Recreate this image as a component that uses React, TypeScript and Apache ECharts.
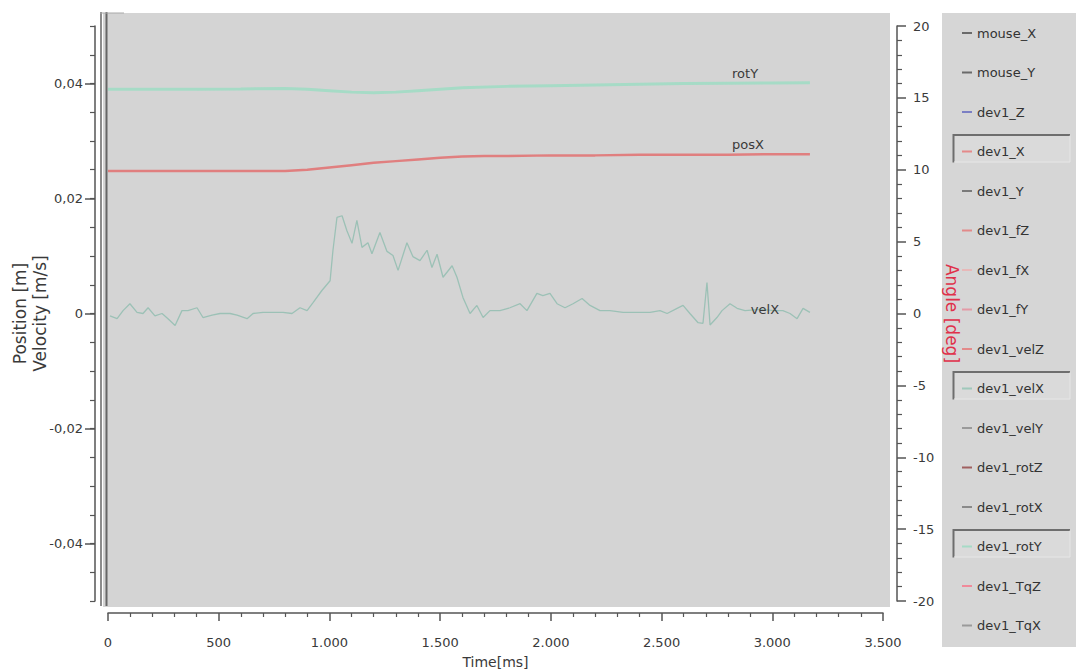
import React, { useEffect, useRef } from "react";
import * as echarts from "echarts";

// ---------- data ----------
const legendNames = [
  "mouse_X", "mouse_Y", "dev1_Z", "dev1_X", "dev1_Y", "dev1_fZ", "dev1_fX", "dev1_fY",
  "dev1_velZ", "dev1_velX", "dev1_velY", "dev1_rotZ", "dev1_rotX", "dev1_rotY", "dev1_TqZ", "dev1_TqX",
];
const legendColors = [
  "#6a6a6a", "#6a6a6a", "#7b7fc4", "#e58a8a", "#7a7a7a", "#e28a8a", "#e8b8b8", "#e49aa6",
  "#e38a8a", "#9fc8bb", "#9a9a9a", "#a06060", "#8a8a8a", "#a6dbc6", "#f08a9a", "#9a9a9a",
];
const activeNames = ["dev1_X", "dev1_velX", "dev1_rotY"];

const xTickValues = [0, 500, 1000, 1500, 2000, 2500, 3000, 3500];
const leftLabelValues = [-0.04, -0.02, 0, 0.02, 0.04];
const rightLabelValues = [-20, -15, -10, -5, 0, 5, 10, 15, 20];

// posX (dev1_X), metres, left axis
const posXTime = [0, 400, 800, 900, 1000, 1100, 1200, 1300, 1400, 1500, 1600, 1700, 1800, 2000, 2200, 2400, 2600, 2800, 3000, 3170];
const posXValue = [0.0248, 0.0248, 0.0248, 0.025, 0.0254, 0.0258, 0.0262, 0.0265, 0.0268, 0.0271, 0.0273, 0.0274, 0.0274, 0.0275, 0.0275, 0.0276, 0.0276, 0.0276, 0.0277, 0.0277];

// rotY (dev1_rotY), degrees, right axis
const rotYTime = [0, 200, 400, 600, 800, 900, 1000, 1100, 1200, 1300, 1400, 1600, 1800, 2000, 2200, 2400, 2600, 2800, 3000, 3170];
const rotYValue = [15.6, 15.6, 15.6, 15.62, 15.65, 15.6, 15.5, 15.4, 15.35, 15.4, 15.5, 15.7, 15.8, 15.85, 15.9, 15.95, 16.0, 16.02, 16.04, 16.05];

// velX (dev1_velX), m/s, left axis
const velXTime = [9, 41, 68, 99, 131, 158, 181, 212, 244, 271, 303, 334, 361, 402, 429, 470, 506, 551, 583, 628, 655, 700, 745, 790, 831, 867, 899, 926, 966, 1003, 1016, 1034, 1057, 1079, 1102, 1124, 1147, 1174, 1192, 1228, 1260, 1287, 1310, 1350, 1377, 1409, 1441, 1463, 1486, 1513, 1554, 1576, 1603, 1635, 1666, 1694, 1725, 1770, 1815, 1861, 1892, 1937, 1964, 1996, 2028, 2064, 2100, 2141, 2177, 2222, 2267, 2326, 2389, 2448, 2493, 2525, 2570, 2597, 2628, 2665, 2687, 2705, 2719, 2750, 2773, 2809, 2841, 2877, 2945, 3012, 3048, 3080, 3112, 3139, 3170];
const velXValue = [-0.0004, -0.0009, 0.0005, 0.0017, 0.0002, 0.0, 0.001, -0.0004, 0.0, -0.0009, -0.0021, 0.0005, 0.0005, 0.001, -0.0007, -0.0003, 0.0, 0.0, -0.0003, -0.0009, 0.0, 0.0002, 0.0002, 0.0002, 0.0, 0.001, 0.0005, 0.0019, 0.004, 0.0057, 0.011, 0.0167, 0.017, 0.0144, 0.0122, 0.0162, 0.0115, 0.0123, 0.0104, 0.0141, 0.0108, 0.0101, 0.0075, 0.0123, 0.0099, 0.0092, 0.011, 0.008, 0.0103, 0.0063, 0.0083, 0.0063, 0.0028, 0.0, 0.0014, -0.0007, 0.0005, 0.0005, 0.001, 0.0017, 0.0005, 0.0035, 0.0031, 0.0035, 0.0017, 0.001, 0.0017, 0.0026, 0.0014, 0.0005, 0.0005, 0.0002, 0.0002, 0.0002, 0.0005, 0.0, 0.0009, 0.0014, 0.0, -0.0016, -0.0017, 0.0054, -0.002, -0.0007, 0.0005, 0.0017, 0.0009, 0.0005, 0.0007, 0.0005, 0.0005, 0.0, -0.0009, 0.0009, 0.0002];

// in-plot series labels
const seriesLabels = ["posX", "velX", "rotY"];
const seriesLabelTimes = [2890, 2967, 2877];

// ---------- helpers ----------
const zip = (t: number[], v: number[]) => t.map((x, i) => [x, v[i]]);
const interp = (t: number[], v: number[], x: number) => {
  for (let i = 1; i < t.length; i++) {
    if (x <= t[i]) {
      const f = (x - t[i - 1]) / (t[i] - t[i - 1]);
      return v[i - 1] + f * (v[i] - v[i - 1]);
    }
  }
  return v[v.length - 1];
};
const fmtComma = (v: number) => {
  if (Math.abs(v) < 1e-9) return "0";
  return v.toFixed(2).replace(".", ",");
};
const fmtThousand = (v: number) => {
  if (v < 1000) return String(v);
  const k = Math.floor(v / 1000);
  return `${k}.${String(Math.round(v - k * 1000)).padStart(3, "0")}`;
};

const FONT = "DejaVu Sans";
const LEG_TOP = 33;
const LEG_STEP = 39.5;

export default function App() {
  const ref = useRef<HTMLDivElement>(null);

  useEffect(() => {
    if (!ref.current) return;
    const chart = echarts.init(ref.current, undefined, { renderer: "svg" });

    const dataMap: Record<string, any> = {
      dev1_X: { time: posXTime, value: posXValue, axis: 0, color: "#e07f7f", width: 2.5, label: 0, pos: "top" },
      dev1_velX: { time: velXTime, value: velXValue, axis: 0, color: "#9cc1b6", width: 1.3, label: 1, pos: "inside" },
      dev1_rotY: { time: rotYTime, value: rotYValue, axis: 1, color: "#a6dbc6", width: 3, label: 2, pos: "top" },
    };

    const series: any[] = legendNames.map((name, i) => {
      const d = dataMap[name];
      const base: any = {
        name,
        type: "line",
        showSymbol: false,
        symbol: "none",
        itemStyle: { color: legendColors[i] },
        lineStyle: { color: legendColors[i], width: 1 },
        data: [],
      };
      if (!d) return base;
      const lt = seriesLabelTimes[d.label];
      return {
        ...base,
        yAxisIndex: d.axis,
        z: name === "dev1_velX" ? 3 : 4,
        lineStyle: { color: d.color, width: d.width },
        data: zip(d.time, d.value),
        markPoint: {
          symbol: "circle",
          symbolSize: 1,
          itemStyle: { color: "rgba(0,0,0,0)" },
          silent: true,
          label: {
            show: true,
            formatter: seriesLabels[d.label],
            position: d.pos,
            distance: 3,
            color: "#3a3a3a",
            fontSize: 13,
            fontFamily: FONT,
          },
          data: [{ coord: [lt, interp(d.time, d.value, lt)] }],
        },
      };
    });

    const graphics: any[] = [
      // plot panel
      { type: "rect", silent: true, z: -10, shape: { x: 103, y: 13, width: 787, height: 594 }, style: { fill: "#d4d4d4" } },
      { type: "line", silent: true, z: -5, shape: { x1: 101, y1: 12, x2: 101, y2: 606 }, style: { stroke: "#8c8c8c", lineWidth: 2 } },
      { type: "line", silent: true, z: -5, shape: { x1: 106.5, y1: 12, x2: 106.5, y2: 606 }, style: { stroke: "#666666", lineWidth: 2 } },
      { type: "line", silent: true, z: -5, shape: { x1: 100, y1: 13, x2: 124, y2: 13 }, style: { stroke: "#a8a8a8", lineWidth: 1 } },
      // legend panel
      { type: "rect", silent: true, z: -10, shape: { x: 942, y: 13, width: 134, height: 634 }, style: { fill: "#d6d6d6" } },
    ];
    activeNames.forEach((n) => {
      const idx = legendNames.indexOf(n);
      const cy = LEG_TOP + idx * LEG_STEP;
      const top = cy - 17;
      const bot = cy + 11;
      graphics.push(
        { type: "rect", silent: true, z: -8, shape: { x: 953, y: top, width: 117, height: bot - top }, style: { fill: "#dadada" } },
        { type: "polyline", silent: true, z: -7, shape: { points: [[953.5, bot], [953.5, top + 0.5], [1070, top + 0.5]] }, style: { stroke: "#6e6e6e", lineWidth: 2, fill: null } },
        { type: "polyline", silent: true, z: -7, shape: { points: [[954, bot - 0.5], [1070, bot - 0.5], [1070, top + 1]] }, style: { stroke: "#e6e6e6", lineWidth: 1, fill: null } },
      );
    });

    const axisLine = { show: true, onZero: false, lineStyle: { color: "#555555", width: 1.5 } };
    const labelStyle = { color: "#3a3a3a", fontSize: 13, fontFamily: FONT };

    chart.setOption({
      animation: false,
      backgroundColor: "#ffffff",
      textStyle: { fontFamily: FONT },
      grid: { left: 108, right: 197, top: 26, bottom: 71, containLabel: false, outerBoundsMode: "none" },
      legend: {
        orient: "vertical",
        left: 957,
        top: LEG_TOP - 12,
        itemWidth: 10,
        itemHeight: 2,
        itemGap: LEG_STEP - 14,
        icon: "rect",
        selectedMode: false,
        textStyle: { fontSize: 13, color: "#333333", fontFamily: FONT, lineHeight: 14 },
        data: legendNames,
      },
      xAxis: {
        type: "value",
        min: 0,
        max: 3500,
        interval: 500,
        offset: 12,
        axisLine,
        axisTick: { show: true, length: 8, lineStyle: { color: "#555555", width: 1.5 } },
        minorTick: { show: true, splitNumber: 5, length: 4, lineStyle: { color: "#555555", width: 1.2 } },
        splitLine: { show: false },
        axisLabel: { ...labelStyle, margin: 23, formatter: (v: number) => (xTickValues.includes(v) ? fmtThousand(v) : "") },
        name: "Time[ms]",
        nameLocation: "middle",
        nameGap: 42,
        nameMoveOverlap: false,
        nameTextStyle: { color: "#3a3a3a", fontSize: 14, fontFamily: FONT },
      },
      yAxis: [
        {
          type: "value",
          position: "left",
          min: -0.05,
          max: 0.05,
          interval: 0.005,
          offset: 13,
          axisLine,
          axisTick: { show: true, length: 5, lineStyle: { color: "#555555", width: 1.2 } },
          splitLine: { show: false },
          axisLabel: {
            ...labelStyle,
            margin: 12,
            formatter: (v: number) => (leftLabelValues.some((l) => Math.abs(l - v) < 1e-6) ? fmtComma(v) : ""),
          },
          name: "Position [m]\nVelocity [m/s]",
          nameLocation: "middle",
          nameRotate: 90,
          nameGap: 45,
          nameMoveOverlap: false,
          nameTextStyle: { color: "#3a3a3a", fontSize: 17, lineHeight: 20, fontFamily: FONT },
        },
        {
          type: "value",
          position: "right",
          min: -20,
          max: 20,
          interval: 5,
          offset: 14,
          axisLine,
          axisTick: { show: true, length: 9, lineStyle: { color: "#555555", width: 1.5 } },
          minorTick: { show: true, splitNumber: 5, length: 5, lineStyle: { color: "#555555", width: 1.2 } },
          splitLine: { show: false },
          axisLabel: {
            ...labelStyle,
            margin: 16,
            formatter: (v: number) => (rightLabelValues.includes(v) ? String(v) : ""),
          },
          name: "Angle [deg]",
          nameLocation: "middle",
          nameRotate: -90,
          nameGap: 46,
          nameMoveOverlap: false,
          nameTextStyle: { color: "#e0304a", fontSize: 17, fontFamily: FONT },
        },
        {
          type: "value",
          position: "left",
          min: -0.05,
          max: 0.05,
          offset: 13,
          axisLine: { show: false, onZero: false },
          axisTick: { show: true, length: 10, customValues: leftLabelValues, lineStyle: { color: "#555555", width: 1.5 } },
          axisLabel: { show: false },
          splitLine: { show: false },
        },
      ],
      series,
      graphic: graphics,
    });

    return () => chart.dispose();
  }, []);

  return <div ref={ref} style={{ position: "fixed", left: 0, top: 0, width: 1080, height: 672 }} />;
}
